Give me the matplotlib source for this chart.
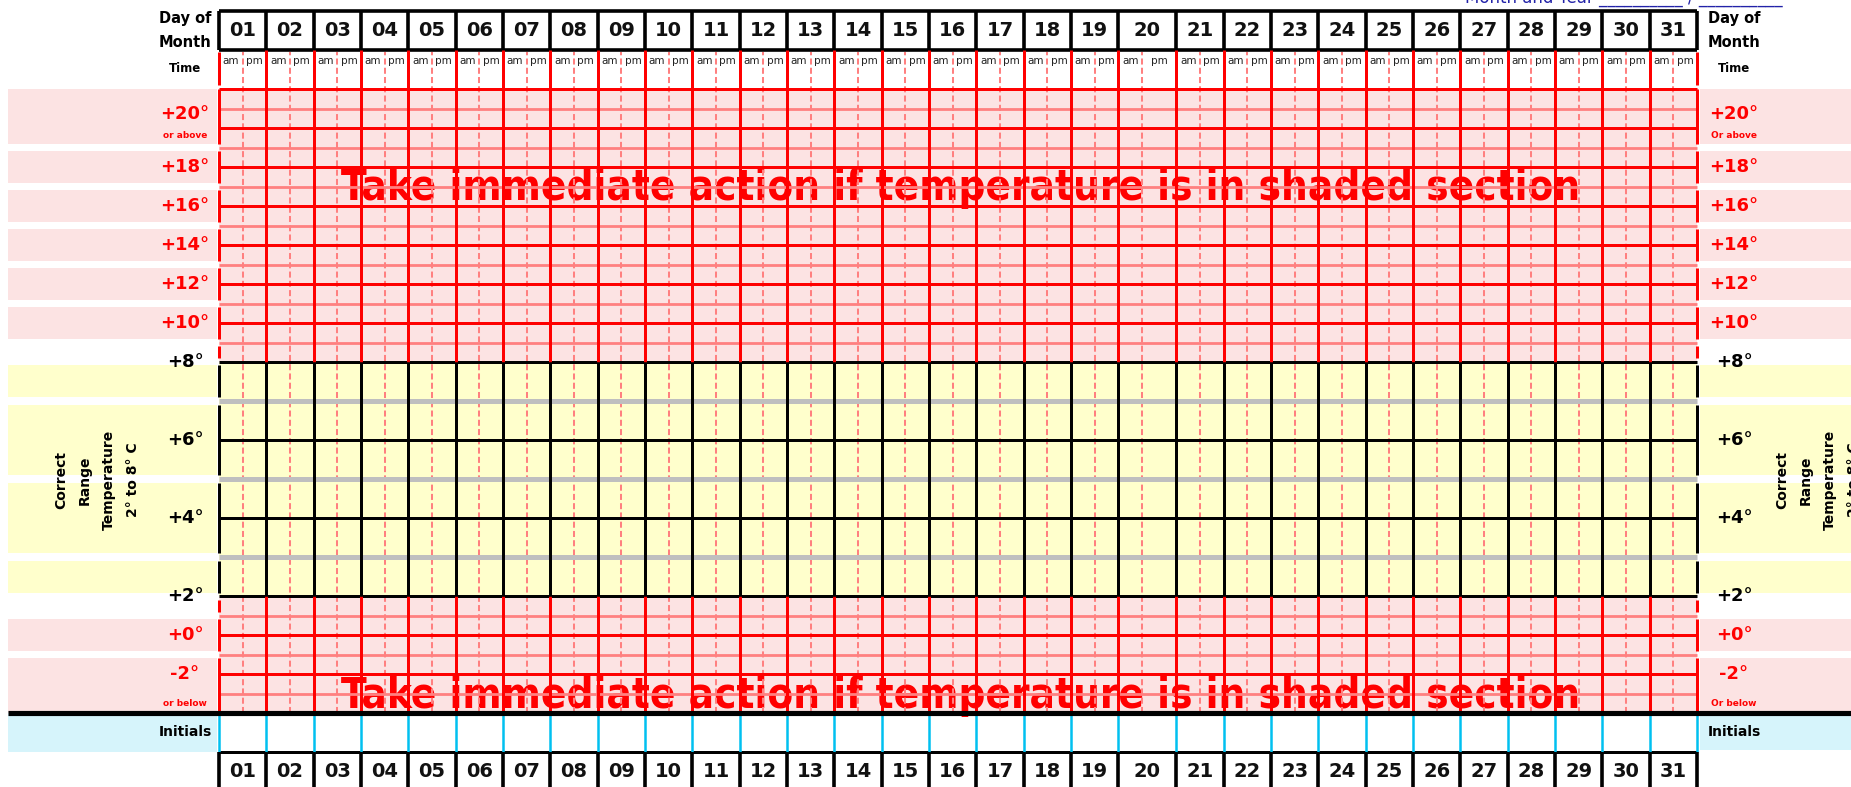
import numpy as np
import matplotlib
matplotlib.use('Agg')
import matplotlib.pyplot as plt
from matplotlib import font_manager

# ---------------- data ----------------
days = ['01', '02', '03', '04', '05', '06', '07', '08', '09', '10',
        '11', '12', '13', '14', '15', '16', '17', '18', '19', '20',
        '21', '22', '23', '24', '25', '26', '27', '28', '29', '30', '31']
periods = ['am', 'pm']
wide_day = '20'

high_labels = ['+20°', '+18°', '+16°', '+14°', '+12°', '+10°']
high_values = [20, 18, 16, 14, 12, 10]
safe_labels = ['+8°', '+6°', '+4°', '+2°']
safe_values = [8, 6, 4, 2]
low_labels = ['+0°', '-2°']
low_values = [0, -2]

chart_top = 22
safe_top = 8
safe_bottom = 2
chart_bottom = -4

above_notes = ['or above', 'Or above']
below_notes = ['or below', 'Or below']
header_label = 'Day of\nMonth'
time_label = 'Time'
initials_label = 'Initials'
warning = 'Take immediate action if temperature is in shaded section'
caption = 'Correct\nRange\nTemperature\n2° to 8° C'
title = 'Month and Year __________ / __________'

# ---------------- colours ----------------
RED = '#FF0000'
LIGHT_RED = '#FF8080'
PINK = '#FCE3E3'
YELLOW = '#FFFFCC'
GREY = '#BFBFBF'
CYAN = '#00C0F0'
CYAN_FILL = '#D6F4FB'
NAVY = '#2222A8'

plt.rcParams['font.family'] = ['DejaVu Sans']

# condensed bold face for the warning if the system has one
has_condensed = any(f.name == 'DejaVu Sans' and 'condensed' in str(f.stretch).lower()
                    for f in font_manager.fontManager.ttflist)
WARN_STRETCH = 'condensed' if has_condensed else 'normal'

# ---------------- layout / scales ----------------
W, H = 1851, 787
GRID_L, GRID_R = 219, 1697
WIDE_W = 58
n = len(days)
COL_W = (GRID_R - GRID_L - WIDE_W) / (n - 1)
wi = days.index(wide_day)
XK = [-20, 0, wi, wi + 1, n, n + 20]
XP = [GRID_L - 20 * COL_W, GRID_L, GRID_L + wi * COL_W,
      GRID_L + wi * COL_W + WIDE_W, GRID_R, GRID_R + 20 * COL_W]

ROW = 19.5
p_top = 89
p_safe_top = p_top + (chart_top - safe_top) * ROW
p_safe_bot = p_safe_top + (safe_top - safe_bottom) * 2 * ROW
p_bot = p_safe_bot + (safe_bottom - chart_bottom) * ROW
TK = [chart_bottom - 14, chart_bottom - 4, chart_bottom, safe_bottom,
      safe_top, chart_top, chart_top + 4, chart_top + 10]
TP = [p_bot + 14 * ROW, p_bot + 4 * ROW, p_bot, p_safe_bot,
      p_safe_top, p_top, p_top - 4 * ROW, p_top - 10 * ROW]
TP_r = TP[::-1]
TK_r = TK[::-1]


def fwd_x(x):
    return np.interp(x, XK, XP)


def inv_x(p):
    return np.interp(p, XP, XK)


def fwd_y(t):
    return -np.interp(t, TK, TP)


def inv_y(v):
    return np.interp(-np.asarray(v), TP_r, TK_r)


def X(px):
    return float(inv_x(px))


def T(px):
    return float(inv_y(-px))


fig = plt.figure(figsize=(W / 100, H / 100), dpi=100)
ax = fig.add_axes([0, 0, 1, 1])
ax.set_xscale('function', functions=(fwd_x, inv_x))
ax.set_yscale('function', functions=(fwd_y, inv_y))
ax.set_xlim(X(0), X(W))
ax.set_ylim(T(H), T(0))
ax.axis('off')

edges = np.arange(n + 1)
inner = edges[1:-1]
borders = [edges[0], edges[-1]]
head_top = chart_top + 4
head_mid = chart_top + 2
init_bot = chart_bottom - 2
foot_bot = chart_bottom - 4

# ---------------- backgrounds ----------------
def band(x0, x1, y0, y1, color, z=0):
    ax.fill_between([x0, x1], y0, y1, color=color, lw=0, zorder=z)

band(0, n, safe_top, chart_top, PINK)
band(0, n, chart_bottom, safe_bottom, PINK)
band(0, n, safe_bottom, safe_top, YELLOW)

g = 0.18
g2 = 0.1
high_blocks = []
for i, v in enumerate(high_values):
    top = chart_top if i == 0 else v + 1 - g
    high_blocks.append((v - 1 + g, top))
low_blocks = []
for i, v in enumerate(low_values):
    bot = chart_bottom if i == len(low_values) - 1 else v - 1 + g
    low_blocks.append((bot, v + 1 - g))
safe_blocks = [(max(v - 1 + g2, safe_bottom + 0.08), min(v + 1 - g2, safe_top - 0.08))
               for v in safe_values]
spare_red = [(safe_top + g, safe_top + 1 - g), (safe_bottom - 1 + g, safe_bottom - g)]

LX = (X(8), X(217))
RX = (X(1700), X(W))
for (x0, x1) in (LX, RX):
    for (b0, b1) in high_blocks + low_blocks:
        band(x0, x1, b0, b1, PINK)
    for (b0, b1) in safe_blocks:
        band(x0, x1, b0, b1, YELLOW)
band(LX[0], LX[1], init_bot - 0.02, chart_bottom, CYAN_FILL)
band(RX[0], RX[1], init_bot + 0.1, chart_bottom, CYAN_FILL)

# ---------------- warning texts (under the grid) ----------------
warn_texts = []
for cap_px in (185, 693):
    t = ax.text(X(961), T(cap_px), warning, color=RED, fontsize=30,
                fontweight='bold', fontstretch=WARN_STRETCH,
                ha='center', va='baseline', zorder=2)
    warn_texts.append((t, cap_px))
renderer = fig.canvas.get_renderer()
for t, cap_px in warn_texts:
    w = t.get_window_extent(renderer).width
    fs = 30 * 1238 / w
    t.set_fontsize(fs)
    em = fs * 100 / 72
    t.set_position((X(961), T(cap_px + 0.3645 * em)))

# ---------------- am / pm dividers ----------------
mids = np.array([X(fwd_x(k) + COL_W / 2) for k in edges[:-1]])
ax.vlines(mids, chart_bottom, T(52), colors=LIGHT_RED, linewidths=1.45,
          linestyles=(0, (3, 1.6)), zorder=3)

# ---------------- horizontal lines ----------------
high_levels = np.arange(chart_top, safe_top, -1)
low_levels = np.arange(safe_bottom - 1, chart_bottom, -1)
safe_levels = np.arange(safe_top - 1, safe_bottom, -1)

light = [v for v in list(high_levels) + list(low_levels) if v % 2]
strong = [v for v in list(high_levels) + list(low_levels) if v % 2 == 0]
ax.hlines(light, 0, n, colors=LIGHT_RED, linewidths=2.0, zorder=4)
ax.hlines([v for v in safe_levels if v % 2], 0, n, colors=GREY, linewidths=3.6, zorder=4)
ax.hlines(strong, 0, n, colors=RED, linewidths=2.15, zorder=5)
ax.hlines([v for v in safe_levels if v % 2 == 0] + [safe_top, safe_bottom], 0, n,
          colors='black', linewidths=2.15, zorder=5)
ax.hlines([head_top, head_mid], 0, n, colors='black', linewidths=2.6, zorder=5)
ax.hlines(init_bot, 0, n, colors='black', linewidths=2.15, zorder=5)
ax.hlines(chart_bottom, X(8), X(W), colors='black', linewidths=3.7, zorder=6)

# ---------------- vertical lines ----------------
ax.vlines(edges, head_mid, head_top, colors='black', linewidths=2.6, zorder=5)
ax.vlines(inner, chart_top, head_mid, colors=RED, linewidths=2.15, zorder=5)
ax.vlines(borders, T(85), T(52), colors=RED, linewidths=2.15, zorder=5)
ax.vlines(inner, safe_top, chart_top, colors=RED, linewidths=2.15, zorder=5)
ax.vlines(inner, chart_bottom, safe_bottom, colors=RED, linewidths=2.15, zorder=5)
ax.vlines(inner, safe_bottom, safe_top, colors='black', linewidths=2.15, zorder=5)
for (b0, b1) in high_blocks + low_blocks + spare_red:
    ax.vlines(borders, b0, b1, colors=RED, linewidths=2.15, zorder=5)
for (b0, b1) in safe_blocks:
    ax.vlines(borders, b0, b1, colors='black', linewidths=2.15, zorder=5)
ax.vlines(edges, init_bot, chart_bottom, colors=CYAN, linewidths=1.8, zorder=5)
ax.vlines(edges, foot_bot, init_bot, colors='black', linewidths=2.6, zorder=5)

# ---------------- texts ----------------
centers = (edges[:-1] + edges[1:]) / 2
for c, d in zip(centers, days):
    ax.text(c, (head_top + head_mid) / 2, d, ha='center', va='center',
            fontsize=14, fontweight='bold', color='#111111', zorder=7)
    ax.text(c, (init_bot + foot_bot) / 2, d, ha='center', va='center',
            fontsize=14, fontweight='bold', color='#111111', zorder=7)

am_x = [X(fwd_x(k) + COL_W / 4) for k in edges[:-1]]
pm_x = [X((fwd_x(m) + fwd_x(k + 1)) / 2) for m, k in zip(mids, edges[:-1])]
for xs, lab in zip((am_x, pm_x), periods):
    for x in xs:
        ax.text(x, T(61), lab, ha='center', va='center', fontsize=7.5,
                color='#222222', zorder=7)

LC, RC = X(185), X(1734)
for xc in (LC, RC):
    ax.text(xc, (head_top + head_mid) / 2, header_label, ha='center', va='center',
            fontsize=10.5, fontweight='bold', linespacing=1.75, zorder=7)
    ax.text(xc, T(68), time_label, ha='center', va='center',
            fontsize=8.5, fontweight='bold', zorder=7)
    ax.text(xc, (chart_bottom + init_bot) / 2, initials_label, ha='center',
            va='center', fontsize=10, fontweight='bold', zorder=7)
    for i, (lab, v) in enumerate(zip(high_labels, high_values)):
        y = T(114) if i == 0 else v
        ax.text(xc, y, lab, ha='center', va='center', fontsize=13,
                fontweight='bold', color=RED, zorder=7)
    for lab, v in zip(safe_labels, safe_values):
        ax.text(xc, v, lab, ha='center', va='center', fontsize=13,
                fontweight='bold', color='black', zorder=7)
    for lab, v in zip(low_labels, low_values):
        ax.text(xc, v, lab, ha='center', va='center', fontsize=13,
                fontweight='bold', color=RED, zorder=7)

for xc, note in zip((LC, RC), above_notes):
    ax.text(xc, T(136), note, ha='center', va='center', fontsize=6.5,
            fontweight='bold', color=RED, zorder=7)
for xc, note in zip((LC, RC), below_notes):
    ax.text(xc, T(703), note, ha='center', va='center', fontsize=6.5,
            fontweight='bold', color=RED, zorder=7)

for xc in (X(97), X(1818)):
    ax.text(xc, T(480), caption, ha='center', va='center', rotation=90,
            fontsize=10, fontweight='bold', linespacing=1.9,
            multialignment='center', zorder=7)

ax.text(X(1465), T(3), title, ha='left', va='baseline', fontsize=12,
        color=NAVY, zorder=7)

fig.savefig('out.png', dpi=100)
